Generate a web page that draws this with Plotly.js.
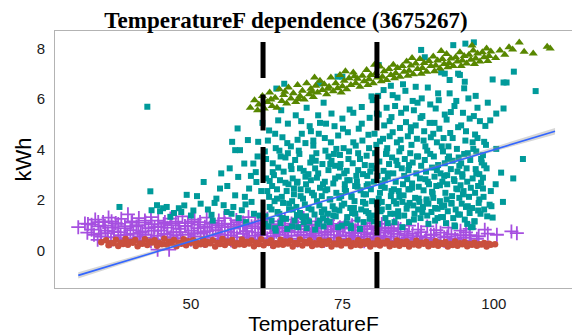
<!DOCTYPE html>
<html>
<head>
<meta charset="utf-8">
<script src="https://cdn.plot.ly/plotly-3.0.1.min.js"></script>
<style>html,body{margin:0;padding:0;background:#fff;}#chart{width:572px;height:335px;}</style>
</head>
<body>
<div id="chart"></div>
<script>
// ---- data ----
const redX = [35.2,36.0,36.8,37.6,38.4,39.2,40.0,40.8,41.6,42.4,43.2,44.0,44.8,45.6,46.4,47.2,48.0,48.8,49.6,50.4,51.2,52.0,52.8,53.6,54.4,55.2,56.0,56.8,57.6,58.4,59.2,60.0,60.8,61.6,62.4,63.2,64.0,64.8,65.6,66.4,67.2,68.0,68.8,69.6,70.4,71.2,72.0,72.8,73.6,74.4,75.2,76.0,76.8,77.6,78.4,79.2,80.0,80.8,81.6,82.4,83.2,84.0,84.8,85.6,86.4,87.2,88.0,88.8,89.6,90.4,91.2,92.0,92.8,93.6,94.4,95.2,96.0,96.8,97.6,98.4,99.2,99.5,
  36.4,38.0,39.6,41.2,42.8,44.4,46.0,47.6,49.2,50.8,52.4,54.0,55.6,57.2,58.8,60.4,62.0,63.6,65.2,66.8,68.4,70.0,71.6,73.2,74.8,76.4,78.0,79.6,81.2,82.8,84.4,86.0,87.6,89.2,90.8,92.4,94.0,95.6,97.2,98.8,
  37.2,38.8,40.4,42.0,43.6,45.2,46.8,48.4,50.0,51.6,53.2,54.8,56.4,58.0,59.6,61.2,62.8,64.4,66.0,67.6,69.2,70.8,72.4,74.0,75.6,77.2,78.8,80.4,82.0,83.6,85.2,86.8,88.4,90.0,91.6,93.2,94.8,96.4,98.0,100.2];
const redY = [0.32,0.40,0.28,0.42,0.30,0.45,0.33,0.41,0.27,0.44,0.35,0.40,0.29,0.46,0.34,0.41,0.30,0.44,0.36,0.40,0.28,0.43,0.33,0.40,0.30,0.45,0.35,0.41,0.28,0.43,0.34,0.39,0.30,0.44,0.32,0.40,0.28,0.42,0.35,0.38,0.29,0.43,0.33,0.39,0.28,0.41,0.34,0.38,0.27,0.42,0.32,0.38,0.28,0.40,0.33,0.37,0.27,0.40,0.31,0.36,0.26,0.39,0.32,0.35,0.26,0.38,0.30,0.34,0.25,0.36,0.29,0.33,0.25,0.35,0.28,0.32,0.25,0.30,0.24,0.29,0.26,0.22,
  0.20,0.17,0.22,0.16,0.21,0.18,0.23,0.16,0.20,0.17,0.22,0.15,0.21,0.18,0.22,0.16,0.20,0.17,0.22,0.15,0.19,0.17,0.21,0.15,0.19,0.16,0.20,0.15,0.19,0.16,0.18,0.15,0.19,0.16,0.18,0.15,0.18,0.16,0.18,0.15,
  0.28,0.25,0.30,0.26,0.31,0.24,0.29,0.26,0.30,0.24,0.28,0.25,0.30,0.24,0.27,0.25,0.29,0.23,0.27,0.25,0.28,0.23,0.26,0.24,0.28,0.22,0.26,0.24,0.27,0.22,0.25,0.23,0.26,0.22,0.25,0.21,0.24,0.22,0.23,0.24];

const purpleX = [33.0,34.2,35.5,36.4,37.6,38.5,39.6,40.3,41.4,42.5,43.4,44.6,45.5,46.6,47.5,48.6,49.5,50.6,51.5,52.6,53.5,54.6,55.5,56.6,57.5,58.6,59.5,60.6,61.5,62.6,63.5,64.6,65.5,66.6,67.5,68.6,69.5,70.6,71.5,72.6,73.5,74.6,75.5,76.6,77.5,78.6,79.5,80.6,81.5,82.6,83.5,84.6,86.0,87.5,89.0,90.5,92.5,94.5,96.0,98.5,102.9,
  31.4,32.5,33.6,34.8,35.9,37.0,38.0,39.1,40.0,41.0,42.0,43.0,44.0,45.1,46.1,47.1,48.1,49.1,50.1,51.1,52.1,53.1,54.1,55.1,56.1,57.1,58.1,59.1,60.1,61.1,62.1,63.1,64.1,65.1,66.1,67.1,68.1,69.1,70.1,71.1,72.1,73.1,74.1,75.1,76.1,77.1,78.1,79.1,80.1,81.1,82.1,83.1,84.1,85.3,86.6,88.0,89.6,91.2,93.0,95.4,96.0,99.0,
  34.0,35.2,36.3,37.3,38.4,39.4,40.5,41.5,42.5,43.5,44.5,44.5,45.6,46.4,46.6,47.6,48.6,49.6,50.6,51.6,52.6,53.6,54.6,55.6,56.6,57.6,58.6,59.6,60.6,61.6,62.6,63.6,64.6,65.6,66.6,67.6,68.6,69.6,70.6,71.6,72.6,73.6,74.6,75.6,76.6,77.6,78.6,79.6,80.6,81.8,83.0,84.4,85.8,87.2,88.8,90.2,91.8,93.6,95.0,97.2,
  33.6,34.7,35.8,36.9,38.0,39.1,40.2,41.3,42.4,43.5,44.6,45.7,46.8,47.9,49.0,50.1,51.2,52.3,53.4,54.5,55.6,56.7,57.8,58.9,60.0,61.1,62.2,63.3,64.4,65.5,66.6,67.7,68.8,69.9,71.0,72.1,73.2,74.3,75.4,76.5,77.6,78.7,79.8,80.9,82.0,83.1,84.2,
  34.6,36.8,39.0,41.2,43.4,45.6,47.8,50.0,52.2,54.4,56.6,58.8,61.0,63.2,65.4,67.6,69.8,72.0,74.2,76.4,78.6,80.8,83.0,85.2,87.4,89.6,91.8,94.0,96.2,
  32.9,35.1,37.3,39.5,41.7,43.9,46.1,48.3,50.5,52.7,54.9,57.1,59.3,61.5,63.7,65.9,68.1,70.3,72.5,74.7,76.9,79.1,81.3,83.5,85.7,87.9,90.1,92.3,94.5,97.5,100.5,103.8];
const purpleY = [1.05,1.22,1.12,1.30,1.08,1.25,1.43,1.15,1.28,1.10,1.32,1.18,1.05,1.26,1.14,1.35,1.08,1.22,1.12,1.30,1.05,1.18,1.28,1.02,1.20,1.10,1.32,1.05,1.18,1.25,1.00,1.15,1.22,0.98,1.12,1.28,1.02,1.15,0.95,1.20,1.05,0.92,1.12,1.00,1.18,0.95,1.08,0.90,1.05,0.88,1.02,0.85,0.98,0.82,0.95,0.80,0.90,0.78,0.85,0.82,0.75,
  0.92,1.06,0.82,0.95,0.78,0.90,0.72,0.88,0.80,0.95,0.75,0.88,0.92,0.78,0.90,0.72,0.85,0.95,0.78,0.88,0.72,0.90,0.80,0.92,0.75,0.86,0.95,0.76,0.88,0.70,0.85,0.92,0.74,0.86,0.78,0.90,0.72,0.84,0.76,0.88,0.70,0.82,0.75,0.86,0.70,0.80,0.72,0.84,0.68,0.78,0.70,0.76,0.65,0.74,0.66,0.72,0.62,0.70,0.64,0.71,0.60,0.66,
  0.62,0.55,0.68,0.52,0.60,0.48,0.65,0.55,0.62,0.50,0.58,0.03,0.65,0.03,0.52,0.60,0.48,0.62,0.55,0.66,0.50,0.58,0.64,0.48,0.60,0.52,0.65,0.50,0.58,0.62,0.48,0.56,0.62,0.50,0.58,0.46,0.60,0.52,0.58,0.48,0.62,0.50,0.56,0.46,0.58,0.50,0.55,0.46,0.52,0.48,0.55,0.46,0.52,0.45,0.50,0.44,0.52,0.45,0.50,0.46,
  1.02,1.12,0.98,1.15,1.05,0.96,1.10,1.00,1.18,1.04,0.95,1.12,1.00,1.08,0.97,1.14,1.02,0.94,1.10,0.99,1.06,0.93,1.12,1.00,0.96,1.08,0.92,1.04,0.98,0.90,1.06,0.95,1.00,0.88,1.02,0.93,0.97,0.86,0.99,0.90,0.94,0.84,0.96,0.86,0.90,0.80,0.88,
  0.42,0.38,0.45,0.40,0.36,0.44,0.39,0.42,0.37,0.45,0.40,0.38,0.43,0.36,0.41,0.39,0.44,0.37,0.40,0.42,0.36,0.40,0.38,0.41,0.37,0.40,0.38,0.42,0.39,
  0.70,0.66,0.75,0.62,0.70,0.78,0.64,0.72,0.68,0.76,0.62,0.70,0.74,0.60,0.68,0.72,0.62,0.66,0.74,0.60,0.68,0.64,0.58,0.66,0.60,0.56,0.62,0.55,0.60,0.56,0.62,0.68];

const tealX = [38.2,42.8,43.3,44.4,43.5,45.4,48.0,48.4,46.6,50.4,51.6,52.1,53.4,54.2,55.4,56.0,57.3,57.8,58.4,58.8,57.3,58.1,56.8,57.7,59.4,60.3,61.1,60.0,60.8,59.6,55.0,53.6,56.7,49.3,61.3,59.1,60.7,
  62.2,62.6,62.9,63.3,63.5,63.9,64.2,64.4,64.8,65.1,65.4,65.6,65.9,66.2,66.5,66.7,67.0,67.3,67.5,67.8,68.1,68.3,68.6,68.9,69.1,69.4,69.7,70.0,70.2,70.5,70.8,71.0,71.3,71.6,71.8,72.1,72.4,72.7,72.9,73.2,73.5,73.8,74.0,74.3,74.6,74.9,75.1,75.4,75.7,76.0,76.2,76.5,76.8,77.1,77.3,77.6,77.9,78.2,78.4,78.7,79.0,79.3,79.5,79.8,
  63.0,64.6,66.0,67.6,69.0,70.6,72.2,73.7,75.3,76.9,78.5,62.4,65.0,68.0,71.2,74.5,77.5,64.0,69.8,73.0,76.4,79.6,66.8,71.9,75.8,78.9,81.0,74.2,75.0,71.2,64.1,
  80.2,80.5,80.7,81.0,81.2,81.5,81.8,82.0,82.3,82.5,82.8,83.1,83.3,83.6,83.9,84.1,84.4,84.7,84.9,85.2,85.5,85.7,86.0,86.3,86.5,86.8,87.1,87.3,87.6,87.9,88.0,88.6,88.2,88.4,88.7,89.0,89.2,89.5,89.8,90.0,90.3,90.6,90.8,91.1,91.4,91.6,91.9,92.2,92.4,92.7,93.0,93.3,93.2,93.5,93.8,94.1,94.3,94.6,94.9,95.1,95.3,95.4,95.7,96.0,96.2,96.5,96.7,96.8,96.9,97.1,97.3,97.6,97.9,98.2,98.4,98.6,98.4,98.2,99.3,99.8,99.8,101.6,102.1,106.9,100.4,101.2,
  80.9,82.6,84.2,85.9,87.5,89.1,90.7,92.3,94.0,95.6,97.4,81.4,83.5,86.1,88.9,91.8,94.8,83.0,85.0,86.6,90.2,92.9,97.0,99.0,91.3,94.4,91.9,94.1,95.2,96.5,93.5];
const tealY = [1.72,5.69,2.34,1.79,1.59,1.67,1.67,1.52,1.33,1.58,1.85,2.71,1.41,2.05,1.79,2.55,2.18,2.91,1.59,3.44,3.97,3.97,4.30,4.83,4.37,3.44,4.30,1.92,2.71,2.45,3.05,1.18,1.45,2.20,1.38,1.12,3.10,
  1.05,2.35,4.75,1.62,3.10,0.88,2.05,5.15,3.72,1.28,6.60,2.68,4.25,1.85,3.35,0.95,2.45,5.35,1.40,3.95,2.15,4.62,1.12,2.92,5.65,1.68,3.48,2.28,4.15,0.82,1.95,3.05,5.05,1.52,2.62,4.45,1.18,3.72,2.02,5.42,1.38,2.85,4.02,0.92,3.28,1.78,4.82,2.42,1.08,3.62,5.58,2.15,4.28,1.45,2.95,3.85,0.85,5.02,1.92,3.38,2.55,4.58,1.25,6.10,
  2.75,1.45,3.85,2.72,1.35,3.55,2.38,1.62,3.05,1.68,2.22,3.62,2.12,3.25,1.18,2.08,2.52,4.05,4.72,3.42,0.98,3.12,1.62,5.85,2.78,1.55,7.34,6.88,6.88,6.61,6.41,
  1.15,3.25,5.42,2.05,4.32,1.62,6.35,2.78,3.92,1.08,5.12,2.35,4.68,1.45,3.55,6.05,2.12,4.05,0.92,2.95,5.62,1.78,3.38,4.88,2.48,1.22,6.48,3.72,2.05,5.25,7.94,7.65,1.52,4.35,2.82,3.95,1.05,5.78,2.32,4.62,1.68,3.18,6.22,2.58,4.12,1.32,5.38,2.02,3.62,6.75,1.85,8.13,4.45,2.75,5.92,1.42,3.35,4.95,2.22,6.42,8.19,1.72,3.85,5.22,2.48,4.28,8.24,1.15,4.59,3.05,5.65,2.02,3.62,3.77,3.37,4.93,4.30,2.45,1.81,1.30,6.77,6.65,6.65,6.31,5.42,3.08,
  1.88,3.05,1.35,2.42,1.62,2.72,1.28,2.98,2.42,1.05,1.58,2.55,1.95,1.88,1.95,1.78,3.02,6.52,6.58,5.92,5.05,5.48,6.12,5.85,7.05,6.95,7.00,7.00,6.68,0.92,0.99];

// denser part of the teal cloud, one line per narrow temperature slice
const tealX2 = [
  62.3,62.4,62.2, 62.8,62.9,62.7,63.0, 63.4,63.5,63.3, 63.8,63.9,63.7,64.0, 64.3,64.4,64.2, 64.7,64.8,64.6,64.9,
  65.2,65.3,65.1, 65.7,65.8,65.6,65.9, 66.1,66.2,66.0, 66.6,66.7,66.5,66.8, 67.1,67.2,67.0, 67.5,67.6,67.4,67.7,
  68.0,68.1,67.9,68.2, 68.5,68.6,68.4, 68.9,69.0,68.8,69.1, 69.4,69.5,69.3,69.6, 69.9,70.0,69.8, 70.3,70.4,70.2,70.5,
  70.8,70.9,70.7,71.0, 71.2,71.3,71.1, 71.7,71.8,71.6,71.9, 72.1,72.2,72.0,72.3, 72.6,72.7,72.5, 73.0,73.1,72.9,73.2,
  73.5,73.6,73.4,73.7, 73.9,74.0,73.8, 74.4,74.5,74.3,74.6, 74.8,74.9,74.7,75.0, 75.3,75.4,75.2, 75.7,75.8,75.6,75.9,
  76.2,76.3,76.1,76.4, 76.6,76.7,76.5,76.8, 77.1,77.2,77.0, 77.5,77.6,77.4,77.7, 78.0,78.1,77.9,78.2, 78.4,78.5,78.3,
  78.9,79.0,78.8,79.1, 79.3,79.4,79.2,79.5, 79.8,79.9,79.7, 80.2,80.3,80.1,80.4,80.0, 80.7,80.8,80.6,80.9,
  81.1,81.2,81.0,81.3,80.9, 81.6,81.7,81.5,81.8, 82.1,82.2,82.0,82.3,81.9, 82.5,82.6,82.4,82.7,
  83.0,83.1,82.9,83.2,82.8, 83.4,83.5,83.3,83.6, 83.9,84.0,83.8,84.1,83.7, 84.3,84.4,84.2,84.5,
  84.8,84.9,84.7,85.0,84.6, 85.2,85.3,85.1,85.4, 85.7,85.8,85.6,85.9,85.5, 86.1,86.2,86.0,86.3,
  86.6,86.7,86.5,86.8,86.4, 87.0,87.1,86.9,87.2, 87.5,87.6,87.4,87.7,87.3, 87.9,88.0,87.8,88.1,
  88.4,88.5,88.3,88.6,88.2, 88.8,88.9,88.7,89.0, 89.3,89.4,89.2,89.5,89.1, 89.7,89.8,89.6,89.9,
  90.2,90.3,90.1,90.4,90.0, 90.6,90.7,90.5,90.8, 91.1,91.2,91.0,91.3,90.9, 91.5,91.6,91.4,91.7,
  92.0,92.1,91.9,92.2,91.8, 92.4,92.5,92.3,92.6, 92.9,93.0,92.8,93.1,92.7, 93.3,93.4,93.2,93.5,
  93.8,93.9,93.7,94.0,93.6, 94.2,94.3,94.1,94.4, 94.7,94.8,94.6,94.9,94.5, 95.1,95.2,95.0,95.3,
  95.6,95.7,95.5,95.8,95.4, 96.0,96.1,95.9,96.2, 96.5,96.6,96.4,96.7, 96.9,97.0,96.8,97.1,
  97.4,97.5,97.3,97.6, 97.8,97.9,97.7,98.0, 98.3,98.4,98.2, 98.8,98.9,98.7, 99.5,99.6,99.4, 100.3,100.4, 101.5,101.6, 103.2,103.3, 104.8,
  44.9,46.0,47.2,48.9,50.0,51.0,52.8,53.9,54.8,55.9,56.4,57.0,58.9,59.9,60.4,61.6,61.0,61.8,59.0,57.9];
const tealY2 = [
  1.35,2.85,3.92, 0.95,2.12,4.35,1.72, 2.55,3.45,1.18, 1.95,4.62,2.98,0.78, 1.52,3.28,2.42, 2.78,1.08,3.95,5.55,
  1.88,3.12,4.48, 1.25,2.35,3.68,0.85, 2.62,1.62,5.02, 3.22,1.95,4.12,2.85, 1.18,3.58,2.22, 2.68,4.38,1.72,0.92,
  1.48,2.42,3.82,5.12, 2.05,3.15,1.32, 4.25,2.62,1.82,0.88, 3.02,1.15,2.38,4.92, 1.62,3.68,2.78, 2.18,1.42,4.35,3.25,
  2.88,1.05,3.85,5.35, 1.78,2.48,4.62, 3.42,1.28,2.15,0.95, 2.72,3.95,1.62,5.02, 1.45,3.18,2.42, 2.02,4.28,1.12,3.55,
  2.65,3.82,1.75,4.92, 1.35,2.28,3.35, 2.92,1.58,4.55,3.78, 2.15,0.98,3.42,5.22, 1.85,2.62,4.05, 3.15,1.32,2.35,4.68,
  2.78,1.68,3.92,0.88, 1.48,3.45,2.12,5.45, 2.55,4.15,1.95, 1.22,3.18,2.72,4.82, 2.38,1.62,3.62,5.68, 3.02,1.12,4.35,
  2.22,3.75,1.85,2.95, 1.48,4.05,2.62,5.25, 3.35,1.95,2.42, 2.72,4.62,1.38,3.85,5.95, 1.82,2.95,4.18,1.05,
  3.52,2.28,5.38,1.55,6.12, 2.65,4.42,1.92,3.15, 1.28,3.82,2.48,5.65,4.95, 2.92,1.72,4.05,3.42,
  2.15,5.28,1.45,3.68,4.52, 3.05,2.42,6.15,1.12, 1.85,4.28,2.72,3.38,5.72, 2.35,3.92,1.55,4.85,
  3.25,1.92,5.45,2.62,4.38, 1.38,3.62,2.18,6.32, 2.82,4.52,1.65,3.18,5.08, 2.42,3.85,1.12,4.72,
  3.48,1.78,2.65,5.55,4.18, 2.08,4.95,1.45,3.05, 3.72,2.52,5.85,1.92,4.42, 1.28,3.35,2.85,6.02,
  2.38,4.72,1.72,3.58,5.32, 3.12,2.02,4.12,1.38, 2.62,5.05,1.85,3.82,6.45, 1.52,3.28,4.48,2.25,
  2.92,1.18,3.72,5.62,2.08, 4.28,1.65,2.55,3.38, 1.95,3.05,4.82,1.32,5.95, 2.72,3.92,1.72,4.45,
  2.28,1.08,3.45,5.18,2.95, 1.55,4.12,2.62,3.72, 3.22,1.88,4.65,2.15,6.22, 1.28,2.82,3.55,5.72,
  2.45,4.02,1.62,3.12,0.95, 3.68,2.08,4.88,1.42, 1.85,2.92,3.45,5.45,2.58, 3.82,1.22,2.35,4.35,
  2.72,1.75,3.25,6.02,4.72, 1.48,3.58,2.12,0.92, 2.85,4.02,1.68,5.32, 2.28,3.22,1.15,3.92,
  2.55,1.88,4.45,3.02, 1.45,2.68,5.12,3.48, 2.12,1.62,2.88, 3.25,1.35,4.18, 2.35,1.75,5.15, 2.62,4.02, 1.92,5.62, 2.85,7.08, 3.62,
  1.55,1.72,1.48,1.78,1.38,2.15,1.62,1.88,2.45,1.52,3.25,1.72,2.12,2.95,1.45,2.35,3.72,5.05,1.82,1.28];

const greenX = [59.8,60.5,61.2,61.8,62.1,62.6,63.0,63.4,63.9,64.2,64.6,65.0,65.3,65.8,66.1,66.5,66.9,67.3,67.6,68.0,68.4,68.7,69.1,69.5,69.8,70.2,70.6,70.9,71.3,71.7,72.0,72.4,72.8,73.1,73.5,73.9,74.2,74.6,75.0,75.3,75.7,76.1,76.4,76.8,77.2,77.5,77.9,78.3,78.6,79.0,79.4,79.7,80.1,80.5,80.8,81.2,81.6,81.9,82.3,82.7,83.0,83.4,83.8,84.1,84.5,84.9,85.2,85.6,86.0,86.3,86.7,87.1,87.4,87.8,88.2,88.5,88.9,89.3,89.6,90.0,90.4,90.7,91.1,91.5,91.8,92.2,92.6,92.9,93.3,93.7,94.0,94.4,94.8,95.1,95.5,95.9,96.2,96.6,97.0,97.3,97.7,98.1,98.4,98.8,99.2,99.5,100.3,101.0,101.8,102.5,103.1,104.2,105.0,106.5,108.8,109.3,
  61.0,63.2,65.5,67.8,70.0,72.6,74.8,77.0,79.2,81.4,83.6,85.8,88.0,90.2,92.4,94.6,96.8,99.0,70.4,75.5,80.3,86.5,91.3,96.4];
const greenY = [5.65,5.95,5.78,6.12,5.62,5.88,6.25,5.72,6.05,5.65,6.38,5.92,6.15,5.82,6.45,6.02,6.22,5.88,6.55,6.12,6.32,5.98,6.62,6.18,6.40,6.08,6.52,6.25,6.72,6.35,6.58,6.18,6.48,6.85,6.30,6.62,6.42,6.95,6.50,6.72,6.38,6.82,6.55,7.05,6.62,6.80,6.48,6.92,6.70,7.15,6.78,6.95,6.62,7.02,6.85,7.28,6.88,7.10,6.75,7.18,6.95,7.35,7.02,7.22,6.88,7.30,7.08,7.48,7.12,7.32,6.98,7.40,7.18,7.58,7.22,7.42,7.08,7.50,7.30,7.68,7.32,7.52,7.20,7.58,7.38,7.78,7.42,7.60,7.30,7.65,7.48,7.85,7.52,7.70,7.40,7.75,7.55,7.92,7.60,7.80,7.48,7.85,7.65,8.00,7.70,7.88,7.62,7.92,7.75,8.05,7.96,8.23,7.87,7.80,8.07,8.00,
  5.55,5.98,6.28,6.00,6.28,6.40,6.25,6.90,6.55,6.70,6.82,6.92,7.00,7.10,7.25,7.30,7.38,7.50,6.85,7.10,7.35,7.62,7.90,8.12];

// linear fit and its confidence ribbon
const fitX = [31.4, 110.1];
const fitY = [-0.99, 4.72];
const bandX = [31.4, 50, 70, 90, 110.1];
const bandHi = [-0.87, 0.42, 1.87, 3.35, 4.85];
const bandLo = [-1.11, 0.33, 1.81, 3.25, 4.59];

// vertical cut-off temperatures
const cutoffs = [61.9, 80.7];

const xTicks = [50, 75, 100];
const yTicks = [0, 2, 4, 6, 8];

// ---- colours ----
const cRed = '#c94f3d', cGreen = '#588700', cTeal = '#009a9a', cPurple = '#a64fe0';

const traces = [
  {type:'scatter', mode:'markers', x: purpleX, y: purpleY,
   marker:{symbol:'cross-thin-open', size:10, color:cPurple, line:{color:cPurple, width:1.8}}, hoverinfo:'skip'},
  {type:'scatter', mode:'markers', x: redX, y: redY,
   marker:{symbol:'circle', size:6.5, color:cRed}, hoverinfo:'skip'},
  {type:'scatter', mode:'markers', x: tealX.concat(tealX2), y: tealY.concat(tealY2),
   marker:{symbol:'square', size:6, color:cTeal}, hoverinfo:'skip'},
  {type:'scatter', mode:'markers', x: greenX, y: greenY,
   marker:{symbol:'triangle-up', size:8, color:cGreen}, hoverinfo:'skip'},
  {type:'scatter', mode:'lines', x: bandX.concat(bandX.slice().reverse()),
   y: bandHi.concat(bandLo.slice().reverse()), fill:'toself',
   fillcolor:'rgba(153,153,153,0.4)', line:{width:0}, hoverinfo:'skip'},
  {type:'scatter', mode:'lines', x: fitX, y: fitY,
   line:{color:'#3366ff', width:1.6}, hoverinfo:'skip'}
];

const shapes = cutoffs.map(c => ({
  type:'line', xref:'x', yref:'paper', x0:c, x1:c, y0:0, y1:1,
  line:{color:'black', width:5, dash:'36px,16.5px'}
}));

const tickFont = {family:'Liberation Sans, Arial, sans-serif', size:15, color:'#1a1a1a'};
const titleFont = {family:'Liberation Sans, Arial, sans-serif', size:22, color:'#000'};

const layout = {
  width:572, height:335,
  margin:{l:55, r:0, t:31, b:47, pad:0},
  paper_bgcolor:'#ffffff', plot_bgcolor:'#ffffff',
  showlegend:false,
  title:{text:'<b>TemperatureF dependence (3675267)</b>',
    font:{family:'Liberation Serif, Times New Roman, serif', size:23, color:'#000'},
    x:0.5, xanchor:'center', xref:'container', y:0.94, yanchor:'middle', yref:'container'},
  xaxis:{range:[27.56, 112.9], tickvals:xTicks, ticktext:xTicks.map(String),
    showgrid:false, zeroline:false, showline:true, linecolor:'#b3b3b3', linewidth:1, mirror:true,
    ticks:'outside', ticklen:2, tickcolor:'rgba(0,0,0,0)', tickfont:tickFont,
    title:{text:'TemperatureF', font:{family:'Liberation Sans, Arial, sans-serif', size:21, color:'#000'}, standoff:7}},
  yaxis:{range:[-1.49, 8.69], tickvals:yTicks, ticktext:yTicks.map(String),
    showgrid:false, zeroline:false, showline:true, linecolor:'#b3b3b3', linewidth:1,
    ticks:'outside', ticklen:6, tickcolor:'rgba(0,0,0,0)', tickfont:tickFont},
  annotations:[{text:'kWh', xref:'paper', yref:'paper', x:-0.060, y:0.5,
    xanchor:'center', yanchor:'middle', textangle:-90, showarrow:false, font:titleFont}],
  shapes: shapes
};

Plotly.newPlot('chart', traces, layout, {staticPlot:true, displayModeBar:false});
</script>
</body>
</html>
